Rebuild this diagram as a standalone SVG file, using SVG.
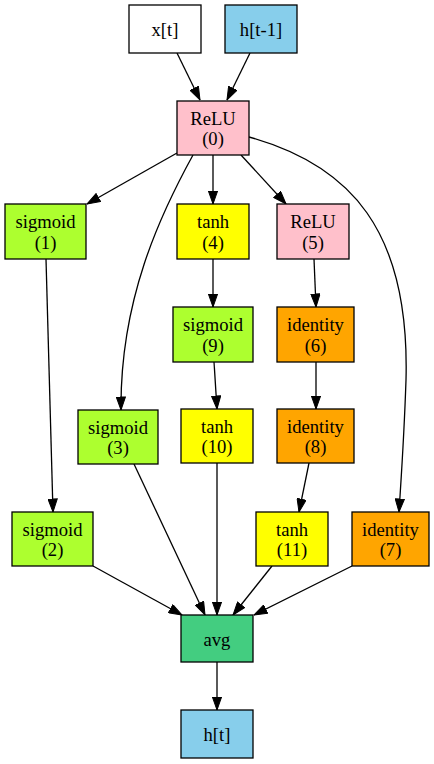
<svg xmlns="http://www.w3.org/2000/svg" width="434" height="764" viewBox="0 0 434 764">
<style>
.n rect{stroke:#000;stroke-width:1.3}
.n text{font-family:"Liberation Serif","Times New Roman",serif;font-size:18.6px;text-anchor:middle;fill:#000}
.e path{fill:none;stroke:#000;stroke-width:1.3}
</style>
<defs>
<marker id="a" markerUnits="userSpaceOnUse" markerWidth="14" markerHeight="10" refX="13.5" refY="5" orient="auto">
<path d="M0.5,0.4 L13.5,5 L0.5,9.6 z" fill="#000" stroke="#000" stroke-width="1"/>
</marker>
</defs>
<rect width="434" height="764" fill="#fff"/>
<g class="e">
<path d="M177,53 L200,100" marker-end="url(#a)"/>
<path d="M250,53 L227,100" marker-end="url(#a)"/>
<path d="M177,153 L87,204" marker-end="url(#a)"/>
<path d="M213,155 L213,204" marker-end="url(#a)"/>
<path d="M241,155 L286,204" marker-end="url(#a)"/>
<path d="M193,155 C160,215 120,300 121,410" marker-end="url(#a)"/>
<path d="M249,137 C350,165 410,230 406,380 C404,440 401,480 399,512" marker-end="url(#a)"/>
<path d="M46,259 L53,512" marker-end="url(#a)"/>
<path d="M213,259 L213,307" marker-end="url(#a)"/>
<path d="M314,259 L316,307" marker-end="url(#a)"/>
<path d="M214,362 L217,409" marker-end="url(#a)"/>
<path d="M316,362 L316,409" marker-end="url(#a)"/>
<path d="M309,463 L299,512" marker-end="url(#a)"/>
<path d="M134,464 L205,615" marker-end="url(#a)"/>
<path d="M217,463 L217,615" marker-end="url(#a)"/>
<path d="M272,566 L233,615" marker-end="url(#a)"/>
<path d="M352,566 L254,615" marker-end="url(#a)"/>
<path d="M93,566 L182,615" marker-end="url(#a)"/>
<path d="M217,662 L217,710" marker-end="url(#a)"/>
</g>
<g id="x_t" class="n"><rect x="129" y="5" width="72" height="48" fill="#fff"/><text x="165" y="36">x[t]</text></g>
<g id="h_prev" class="n"><rect x="225" y="5" width="72" height="48" fill="#87ceeb"/><text x="261" y="36">h[t-1]</text></g>
<g id="n0" class="n"><rect x="177" y="101" width="72" height="54" fill="#ffc0cb"/><text x="213" y="124.5">ReLU</text><text x="213" y="145">(0)</text></g>
<g id="n1" class="n"><rect x="5" y="204" width="81" height="55" fill="#adff2f"/><text x="45.5" y="228">sigmoid</text><text x="45.5" y="248.5">(1)</text></g>
<g id="n4" class="n"><rect x="177" y="204" width="72" height="55" fill="#ffff00"/><text x="213" y="228">tanh</text><text x="213" y="248.5">(4)</text></g>
<g id="n5" class="n"><rect x="277" y="204" width="72" height="55" fill="#ffc0cb"/><text x="313" y="228">ReLU</text><text x="313" y="248.5">(5)</text></g>
<g id="n9" class="n"><rect x="173" y="307" width="80" height="55" fill="#adff2f"/><text x="213" y="331">sigmoid</text><text x="213" y="351.5">(9)</text></g>
<g id="n6" class="n"><rect x="277" y="307" width="77" height="55" fill="#ffa500"/><text x="315.5" y="331">identity</text><text x="315.5" y="351.5">(6)</text></g>
<g id="n3" class="n"><rect x="78" y="410" width="80" height="54" fill="#adff2f"/><text x="118" y="433.5">sigmoid</text><text x="118" y="454">(3)</text></g>
<g id="n10" class="n"><rect x="181" y="409" width="72" height="54" fill="#ffff00"/><text x="217" y="432.5">tanh</text><text x="217" y="453">(10)</text></g>
<g id="n8" class="n"><rect x="277" y="409" width="77" height="54" fill="#ffa500"/><text x="315.5" y="432.5">identity</text><text x="315.5" y="453">(8)</text></g>
<g id="n2" class="n"><rect x="12" y="512" width="81" height="54" fill="#adff2f"/><text x="52.5" y="535.5">sigmoid</text><text x="52.5" y="556">(2)</text></g>
<g id="n11" class="n"><rect x="256" y="512" width="72" height="54" fill="#ffff00"/><text x="292" y="535.5">tanh</text><text x="292" y="556">(11)</text></g>
<g id="n7" class="n"><rect x="352" y="512" width="77" height="54" fill="#ffa500"/><text x="390.5" y="535.5">identity</text><text x="390.5" y="556">(7)</text></g>
<g id="avg" class="n"><rect x="181" y="615" width="72" height="47" fill="#43cd80"/><text x="217" y="645.5">avg</text></g>
<g id="h_t" class="n"><rect x="181" y="710" width="72" height="48" fill="#87ceeb"/><text x="217" y="741">h[t]</text></g>
</svg>
